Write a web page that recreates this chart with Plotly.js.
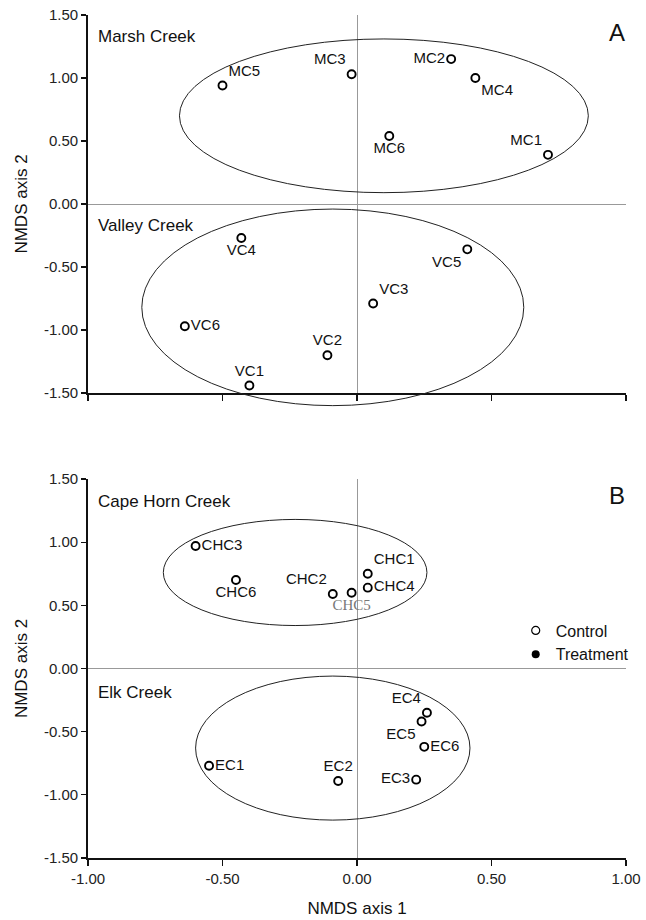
<!DOCTYPE html>
<html>
<head>
<meta charset="utf-8">
<script src="https://cdn.plot.ly/plotly-3.0.1.min.js"></script>
<style>html,body{margin:0;padding:0;background:#fff;}#chart{width:646px;height:920px;}</style>
</head>
<body>
<div id="chart"></div>
<script>
// ---- Panel A data ----
var mcLabels = ["MC1","MC2","MC3","MC4","MC5","MC6"];
var mcX = [0.71, 0.35, -0.02, 0.44, -0.50, 0.12];
var mcY = [0.39, 1.15, 1.03, 1.00, 0.94, 0.54];
var mcPos = ["top left","middle left","top left","bottom right","top right","bottom center"];

var vcLabels = ["VC1","VC2","VC3","VC4","VC5","VC6"];
var vcX = [-0.40, -0.11, 0.06, -0.43, 0.41, -0.64];
var vcY = [-1.44, -1.20, -0.79, -0.27, -0.36, -0.97];
var vcPos = ["top center","top center","top right","bottom center","bottom left","middle right"];

// ---- Panel B data ----
var chcLabels = ["CHC1","CHC2","CHC3","CHC4","CHC6"];
var chcX = [0.04, -0.09, -0.60, 0.04, -0.45];
var chcY = [0.75, 0.59, 0.97, 0.64, 0.70];
var chcPos = ["top right","top left","middle right","middle right","bottom center"];
var chc5Label = ["CHC5"];
var chc5X = [-0.02];
var chc5Y = [0.60];

var ecLabels = ["EC1","EC2","EC3","EC4","EC5","EC6"];
var ecX = [-0.55, -0.07, 0.22, 0.26, 0.24, 0.25];
var ecY = [-0.77, -0.89, -0.88, -0.35, -0.42, -0.62];
var ecPos = ["middle right","top center","middle left","top left","bottom left","middle right"];

// ---- Group ellipses (centre x, centre y, half width, half height) ----
var ellNames = ["Marsh Creek","Valley Creek","Cape Horn Creek","Elk Creek"];
var ellCx = [0.10, -0.09, -0.23, -0.09];
var ellCy = [0.70, -0.82, 0.76, -0.63];
var ellRx = [0.76, 0.71, 0.49, 0.51];
var ellRy = [0.61, 0.78, 0.42, 0.57];

// ---- Axis ticks ----
var yTickVals = [-1.5, -1.0, -0.5, 0, 0.5, 1.0, 1.5];
var yTickText = ["-1.50","-1.00","-0.50","0.00","0.50","1.00","1.50"];
var xTickVals = [-1.0, -0.5, 0, 0.5, 1.0];
var xTickText = ["-1.00","-0.50","0.00","0.50","1.00"];
var legendNames = ["Control","Treatment"];

var FONT = "Liberation Sans, Arial, sans-serif";
var labelFont = {family: FONT, size: 15, color: "#111"};

function pts(x, y, t, pos, xa, ya, font) {
  return {
    type: "scatter", mode: "markers+text", x: x, y: y, text: t, textposition: pos,
    xaxis: xa, yaxis: ya, cliponaxis: false, showlegend: false, hoverinfo: "skip",
    marker: {symbol: "circle-open", size: 8, color: "#000", line: {width: 1.9, color: "#000"}},
    textfont: font || labelFont
  };
}

var traces = [
  pts(mcX, mcY, mcLabels, mcPos, "x", "y"),
  pts(vcX, vcY, vcLabels, vcPos, "x", "y"),
  pts(chcX, chcY, chcLabels, chcPos, "x2", "y2"),
  pts(chc5X, chc5Y, chc5Label, ["bottom center"], "x2", "y2",
      {family: "Liberation Serif, Times New Roman, serif", size: 15, color: "#777"}),
  pts(ecX, ecY, ecLabels, ecPos, "x2", "y2"),
  {type: "scatter", mode: "markers", x: [null], y: [null], xaxis: "x3", yaxis: "y3",
   showlegend: false, hoverinfo: "skip"},
  {type: "scatter", mode: "markers", x: [null], y: [null], xaxis: "x2", yaxis: "y2",
   name: legendNames[0], showlegend: true,
   marker: {symbol: "circle-open", size: 8, color: "#000", line: {width: 1.2, color: "#000"}}},
  {type: "scatter", mode: "markers", x: [null], y: [null], xaxis: "x2", yaxis: "y2",
   name: legendNames[1], showlegend: true,
   marker: {symbol: "circle", size: 8, color: "#000"}}
];

var ellRefs = [["x3","y3"],["x3","y3"],["x2","y2"],["x2","y2"]];
var shapes = ellNames.map(function(n, i) {
  return {type: "circle", xref: ellRefs[i][0], yref: ellRefs[i][1],
    x0: ellCx[i] - ellRx[i], x1: ellCx[i] + ellRx[i],
    y0: ellCy[i] - ellRy[i], y1: ellCy[i] + ellRy[i],
    line: {color: "#222", width: 1}, fillcolor: "rgba(0,0,0,0)", layer: "above"};
});

var annotations = [
  {text: ellNames[0], x: -0.97, y: 1.33, xref: "x", yref: "y"},
  {text: ellNames[1], x: -0.97, y: -0.17, xref: "x", yref: "y"},
  {text: ellNames[2], x: -0.97, y: 1.32, xref: "x2", yref: "y2"},
  {text: ellNames[3], x: -0.97, y: -0.19, xref: "x2", yref: "y2"}
].map(function(a) {
  a.showarrow = false; a.xanchor = "left"; a.yanchor = "middle";
  a.font = {family: FONT, size: 17, color: "#111"}; return a;
});
annotations.push({text: "A", x: 0.965, y: 1.36, xref: "x", yref: "y", showarrow: false,
  xanchor: "center", yanchor: "middle", font: {family: FONT, size: 24, color: "#111"}});
annotations.push({text: "B", x: 0.965, y: 1.37, xref: "x2", yref: "y2", showarrow: false,
  xanchor: "center", yanchor: "middle", font: {family: FONT, size: 24, color: "#111"}});

var tickFont = {family: FONT, size: 15, color: "#222"};
function yAx(domain, anchor) {
  return {domain: domain, anchor: anchor, range: [-1.5, 1.5],
    tickmode: "array", tickvals: yTickVals, ticktext: yTickText,
    ticks: "outside", ticklen: 5, tickwidth: 1.2, tickcolor: "#111",
    showline: true, linecolor: "#111", linewidth: 1.8, showgrid: false,
    zeroline: true, zerolinecolor: "#999", zerolinewidth: 1, tickfont: tickFont,
    title: {text: "NMDS axis 2", font: {family: FONT, size: 17, color: "#111"}, standoff: 12}};
}
function xAx(anchor, labels) {
  return {domain: [0, 1], anchor: anchor, range: [-1, 1],
    tickmode: "array", tickvals: xTickVals, ticktext: xTickText,
    ticks: "outside", ticklen: 6, tickwidth: 1.2, tickcolor: "#111", showticklabels: labels,
    showline: true, linecolor: "#111", linewidth: 1.8, showgrid: false,
    zeroline: true, zerolinecolor: "#999", zerolinewidth: 1, tickfont: tickFont};
}

var xa2 = xAx("y2", true);
xa2.title = {text: "NMDS axis 1", font: {family: FONT, size: 17, color: "#111"}, standoff: 16};

var layout = {
  width: 646, height: 920,
  margin: {l: 88, r: 14, t: 15, b: 62},
  paper_bgcolor: "#fff", plot_bgcolor: "rgba(0,0,0,0)",
  font: {family: FONT},
  xaxis: xAx("y", false),
  yaxis: yAx([0.5516, 1], "x"),
  xaxis2: xa2,
  yaxis2: yAx([0, 0.4496], "x2"),
  xaxis3: {domain: [0, 1], anchor: "y3", range: [-1, 1], visible: false, overlaying: "x"},
  yaxis3: {domain: [0.5142, 1], anchor: "x3", range: [-1.75, 1.5], visible: false},
  shapes: shapes,
  annotations: annotations,
  showlegend: true,
  legend: {x: 0.795, y: 0.29, xanchor: "left", yanchor: "top", bgcolor: "rgba(0,0,0,0)",
    font: {family: FONT, size: 16, color: "#111"}, itemwidth: 30, tracegroupgap: 0}
};

Plotly.newPlot("chart", traces, layout, {staticPlot: true, displayModeBar: false});
</script>
</body>
</html>
